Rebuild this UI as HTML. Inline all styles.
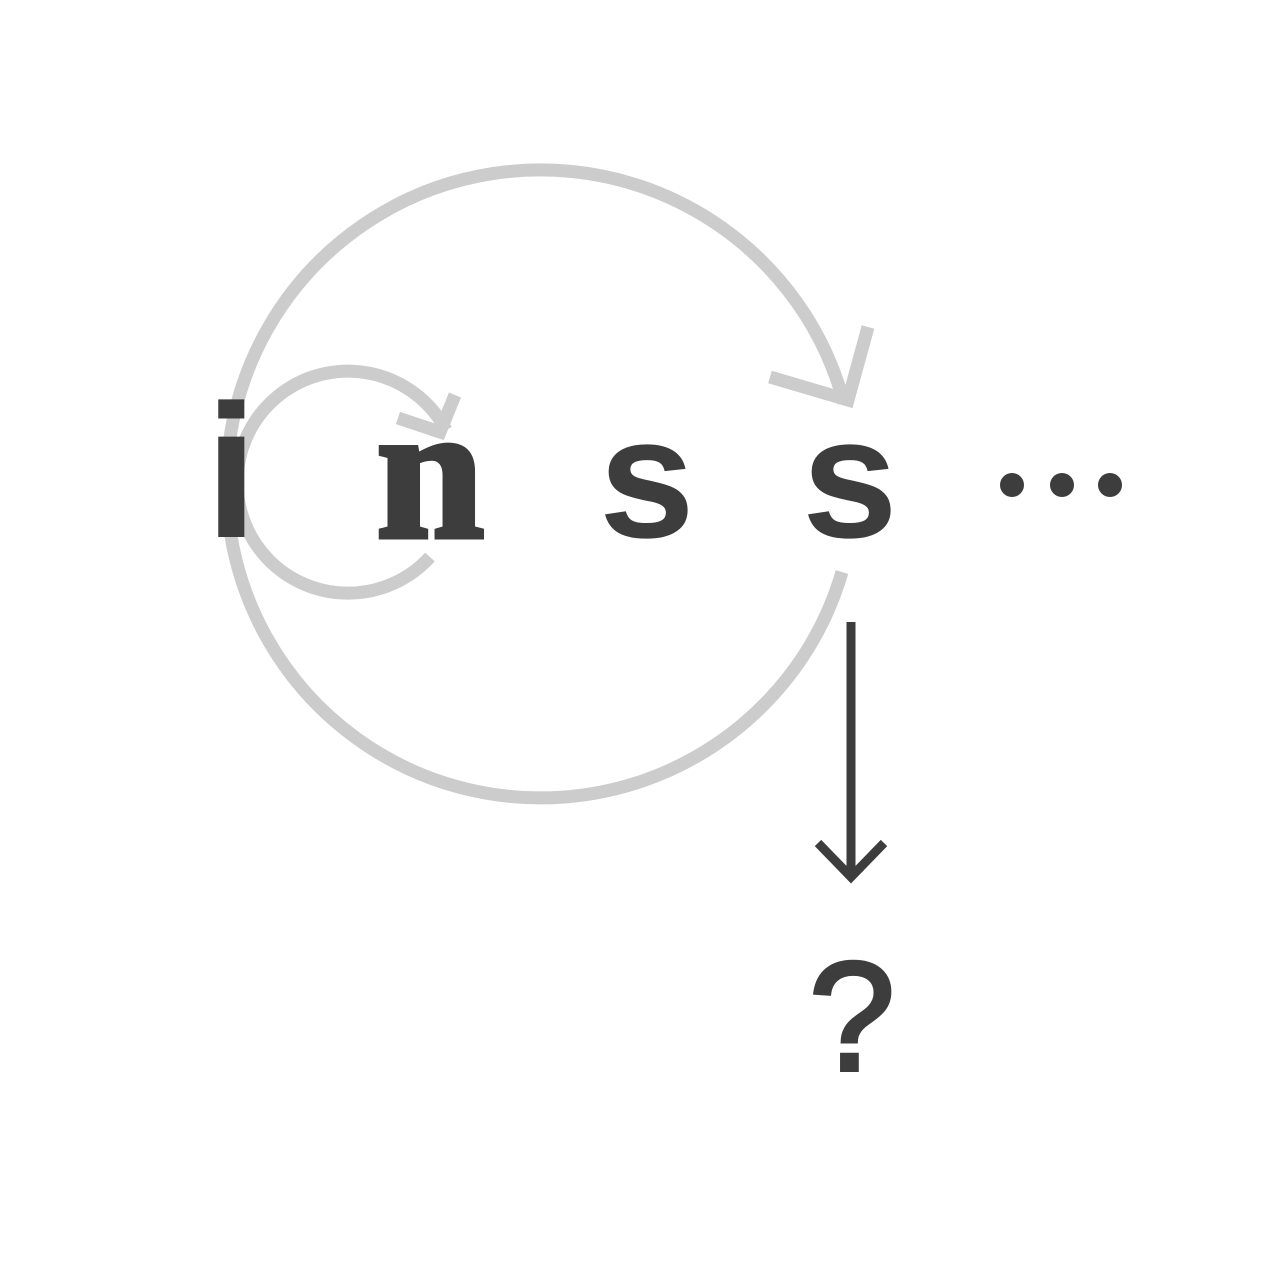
<!DOCTYPE html>
<html><head><meta charset="utf-8"><style>html,body{margin:0;padding:0;background:#fff}svg{display:block}</style></head>
<body>
<svg width="1280" height="1280" viewBox="0 0 1280 1280" xmlns="http://www.w3.org/2000/svg">
<rect width="1280" height="1280" fill="#fff"/>
<g fill="none" stroke="#cccccc" stroke-width="13">
<path d="M842 572 A314 314 0 1 1 844 403"/>
<path d="M770 377 L848 400 L868 327"/>
<path d="M430 557 A111 111 0 1 1 446 430"/>
<path d="M398 418 L440 432 L455 395"/>
</g>
<g fill="#3d3d3d">
<text x="205" y="537" font-family="Liberation Sans, sans-serif" font-weight="bold" font-size="190">i</text>
<text x="376" y="537" font-family="Liberation Serif, serif" font-weight="bold" font-size="195" stroke="#3d3d3d" stroke-width="5">n</text>
<text x="599" y="537" font-family="Liberation Sans, sans-serif" font-weight="bold" font-size="172">s</text>
<text x="802" y="537" font-family="Liberation Sans, sans-serif" font-weight="bold" font-size="172">s</text>
<circle cx="1012" cy="485" r="12"/><circle cx="1062" cy="485" r="12"/><circle cx="1110" cy="485" r="12"/>
<text x="852" y="1070" text-anchor="middle" font-family="Liberation Sans, sans-serif" font-size="155" stroke="#3d3d3d" stroke-width="4">?</text>
</g>
<g fill="none" stroke="#3d3d3d" stroke-width="9">
<path d="M851 622 L851 878"/>
<path d="M818 843 L851 877 L884 843"/>
</g>
</svg>
</body></html>
